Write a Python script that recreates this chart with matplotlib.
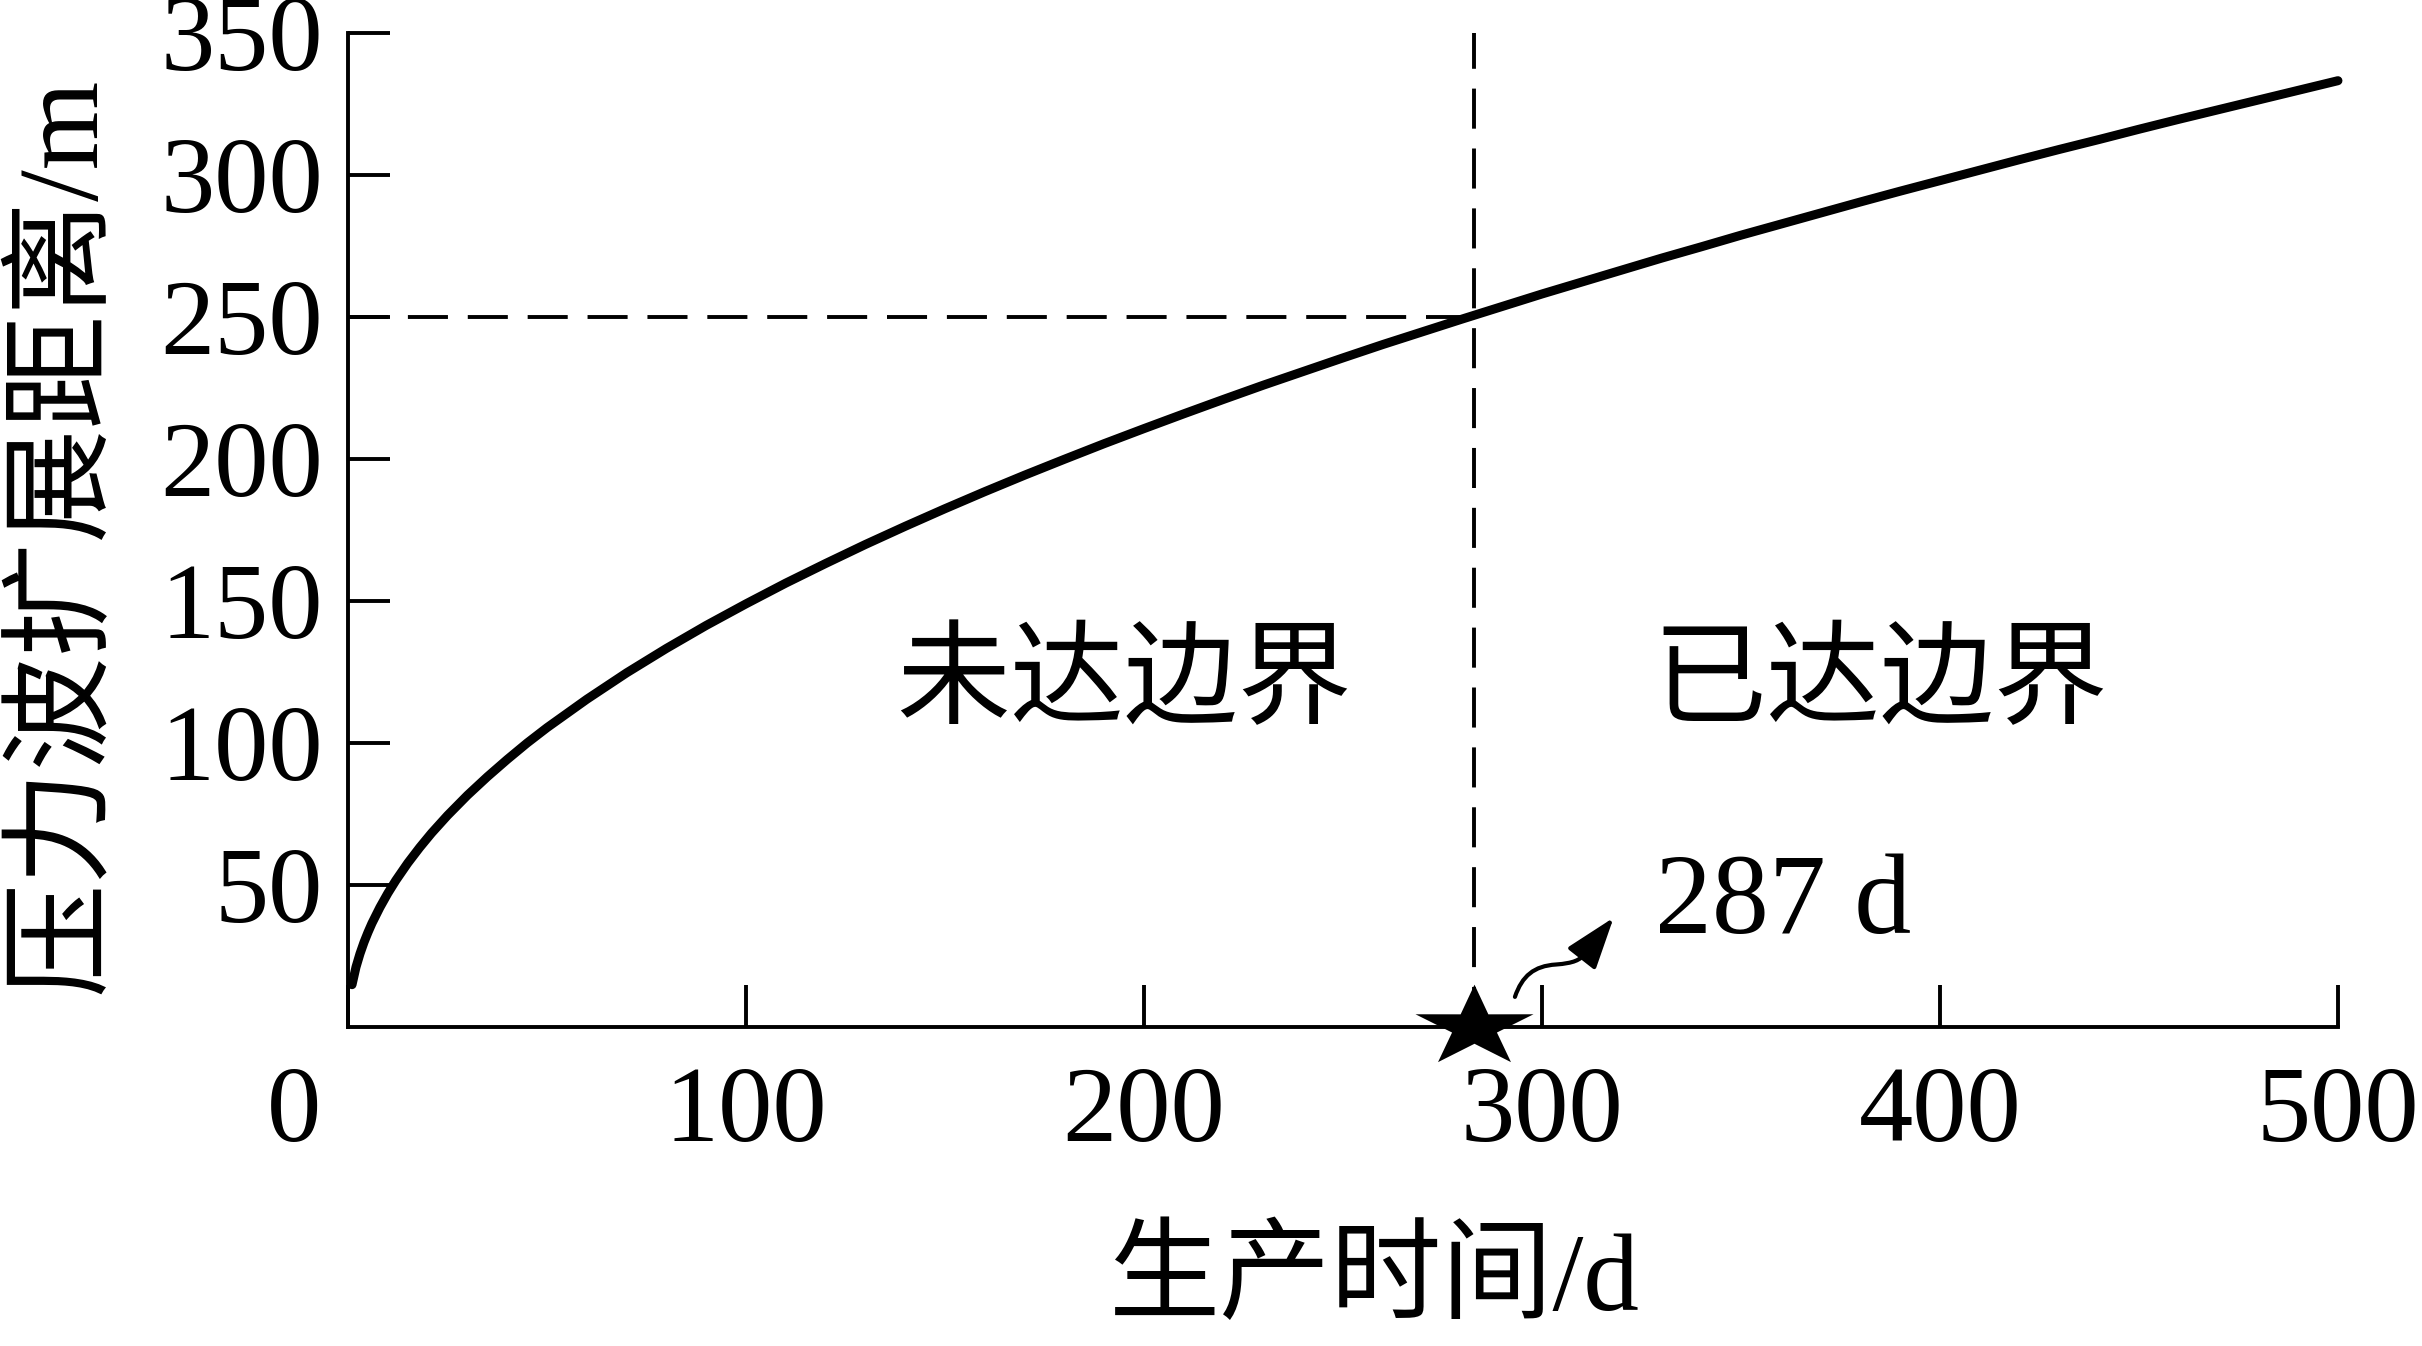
import numpy as np
import matplotlib
matplotlib.use("Agg")
import matplotlib.pyplot as plt
from matplotlib.path import Path
from matplotlib.patches import FancyArrowPatch
from matplotlib.transforms import ScaledTranslation

plt.rcParams['font.family'] = ['Liberation Serif', 'Noto Sans CJK SC']

# 压力波扩展距离 vs 生产时间
t_days = [1, 2, 3, 4, 5, 6, 8, 10, 12, 15, 18, 21, 25, 30, 35, 40, 45, 50,
          60, 70, 80, 90, 100, 110, 120, 130, 140, 150, 160, 170, 180, 190,
          200, 210, 220, 230, 240, 250, 260, 270, 280, 290, 300, 310, 320, 330,
          340, 350, 360, 370, 380, 390, 400, 410, 420, 430, 440, 450, 460, 470,
          480, 490, 500]
dist_m = [14.9, 21.1, 25.8, 29.8, 33.3, 36.5, 42.1, 47.1, 51.6, 57.7, 63.2, 68.3,
          74.5, 81.6, 88.1, 94.2, 100.0, 105.4,
          115.4, 124.7, 133.3, 141.4, 149.0, 156.3, 163.2, 169.9, 176.3, 182.5,
          188.5, 194.3, 199.9, 205.4,
          210.7, 215.9, 221.0, 226.0, 230.8, 235.6, 240.3, 244.8, 249.3, 253.7,
          258.1, 262.3, 266.5, 270.7,
          274.7, 278.8, 282.7, 286.6, 290.5, 294.3, 298.0, 301.7, 305.4, 309.0,
          312.5, 316.1, 319.6, 323.0,
          326.4, 329.8, 333.2]

boundary_t = 283        # where the curve reaches the boundary
boundary_d = 250        # boundary distance, m
boundary_label = "287 d"

x_ticks = [0, 100, 200, 300, 400, 500]
y_ticks = [50, 100, 150, 200, 250, 300, 350]

region_labels = ["未达边界", "已达边界"]
region_x = [195, 385]
region_y = 120

fig = plt.figure(figsize=(24.22, 13.46), dpi=100)
ax = fig.add_axes([0.1437, 0.2370, 0.8216, 0.7385])

ax.plot(t_days, dist_m, color='black', lw=6.5, solid_capstyle='round',
        solid_joinstyle='round', clip_on=False, zorder=3)

dash = (10.3, 5.1)
ax.plot([0, boundary_t], [boundary_d, boundary_d], color='black', lw=2.8, dashes=dash, zorder=2)
ax.plot([boundary_t, boundary_t], [0, 350], color='black', lw=2.8, dashes=dash, zorder=2)

# squashed star marker
ang = np.deg2rad(90 + 36 * np.arange(10))
rad = np.where(np.arange(10) % 2 == 0, 1.0, 0.38)
star = np.column_stack([rad * np.cos(ang), 0.69 * rad * np.sin(ang)])
ax.plot([boundary_t], [0], marker=star, ms=85, color='black', mec='black',
        mew=0, clip_on=False, zorder=5)

# wavy arrow pointing to the label
arrow_path = Path([(293.2, 10.6), (295.0, 18.0), (298.0, 21.5), (303.5, 22.0),
                   (308.0, 22.5), (309.5, 23.5), (311.0, 26.0), (318.0, 38.5)],
                  [Path.MOVETO, Path.CURVE4, Path.CURVE4, Path.CURVE4,
                   Path.CURVE4, Path.CURVE4, Path.CURVE4, Path.LINETO])
arr = FancyArrowPatch(path=arrow_path, arrowstyle='-|>,head_length=1.6,head_width=0.55',
                      mutation_scale=20, color='black', lw=3.0, clip_on=False)
ax.add_patch(arr)

ax.text(360.6, 42.7, boundary_label, fontsize=82, ha='center', va='center')

for lab, xx in zip(region_labels, region_x):
    ax.text(xx, region_y, lab, fontsize=82, ha='center', va='center')

ax.set_xlim(0, 500)
ax.set_ylim(0, 350)
ax.spines['top'].set_visible(False)
ax.spines['right'].set_visible(False)
for s in ['left', 'bottom']:
    ax.spines[s].set_linewidth(2.8)

ax.set_xticks(x_ticks)
ax.set_xticklabels([str(v) for v in x_ticks])
ax.set_yticks(y_ticks)
ax.set_yticklabels([str(v) for v in y_ticks])
ax.tick_params(direction='in', length=30, width=2.8, labelsize=78)
ax.tick_params(axis='x', pad=28)
ax.tick_params(axis='y', pad=18)

# shift the origin label to the left like the original
lbl0 = ax.get_xticklabels()[0]
lbl0.set_transform(lbl0.get_transform() + ScaledTranslation(-0.54, 0, fig.dpi_scale_trans))

ax.set_xlabel("生产时间/d", fontsize=80, va='center')
ax.xaxis.set_label_coords(0.516, -0.2555)
ax.set_ylabel("压力波扩展距离/m", fontsize=82, va='center')
ax.yaxis.set_label_coords(-0.142, 0.495)

fig.savefig("out.png", dpi=100)
